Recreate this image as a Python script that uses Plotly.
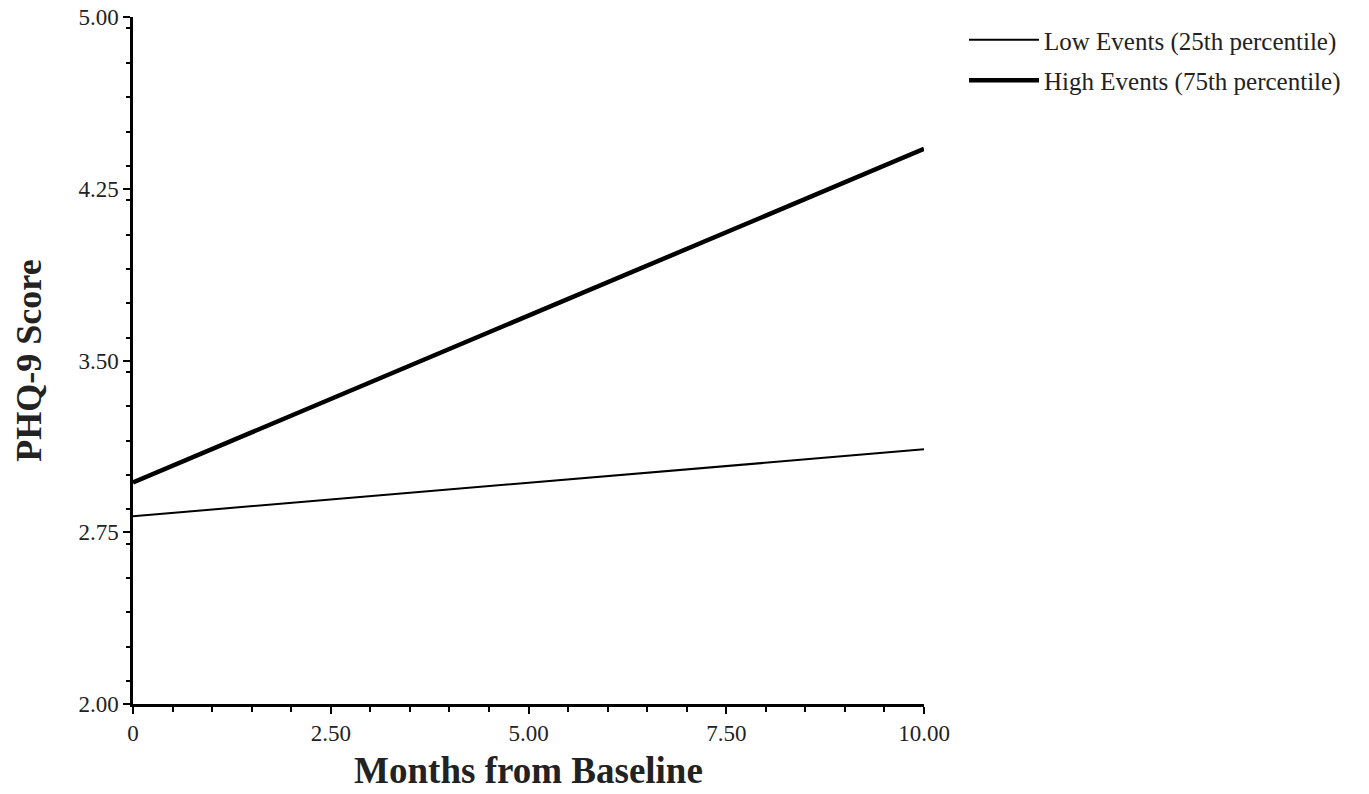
import plotly.graph_objects as go

months = [0, 10]
low_events = [2.82, 3.112]
high_events = [2.968, 4.424]
series_names = ["Low Events (25th percentile)", "High Events (75th percentile)"]
x_tickvals = [0, 2.5, 5, 7.5, 10]
x_ticktext = ["0", "2.50", "5.00", "7.50", "10.00"]
y_tickvals = [2.0, 2.75, 3.5, 4.25, 5.0]
y_ticktext = ["2.00", "2.75", "3.50", "4.25", "5.00"]

FONT = "Liberation Serif, Times New Roman, serif"

fig = go.Figure()
fig.add_trace(go.Scatter(x=months, y=low_events, mode="lines", name=series_names[0],
                         legendgroup="low", line=dict(color="black", width=2)))
fig.add_trace(go.Scatter(x=months, y=high_events, mode="lines", name=series_names[1],
                         legendgroup="high", line=dict(color="black", width=4.5)))

axis_common = dict(showgrid=False, zeroline=False, showline=True, linecolor="black",
                   linewidth=2.5, ticks="outside", tickcolor="black", tickwidth=2,
                   ticklen=7, automargin=False, ticklabeloverflow="allow",
                   tickfont=dict(family=FONT, size=23, color="#222"))

fig.update_xaxes(range=[0, 10], tickvals=x_tickvals, ticktext=x_ticktext,
                 minor=dict(dtick=0.5, ticks="outside", ticklen=5, tickwidth=2, tickcolor="black"),
                 title=dict(text="<b>Months from Baseline</b>", font=dict(family=FONT, size=37, color="#222"),
                            standoff=12),
                 **axis_common)
fig.update_yaxes(range=[2, 5], tickvals=y_tickvals, ticktext=y_ticktext,
                 minor=dict(dtick=0.15, ticks="outside", ticklen=4, tickwidth=2, tickcolor="black"),
                 title=dict(text="<b>PHQ-9 Score</b>", font=dict(family=FONT, size=36, color="#222"),
                            standoff=26),
                 **axis_common)

fig.update_layout(
    width=1369, height=794,
    margin=dict(l=133, r=445, t=17, b=90),
    paper_bgcolor="white", plot_bgcolor="white",
    showlegend=True,
    legend=dict(x=1.0506, y=1.0, xanchor="left", yanchor="top",
                font=dict(family=FONT, size=25, color="#222"),
                bgcolor="rgba(0,0,0,0)", itemwidth=70, tracegroupgap=5),
)

fig.write_html("out.html", config={"displayModeBar": False},
               post_script="document.body.style.margin='0';")
